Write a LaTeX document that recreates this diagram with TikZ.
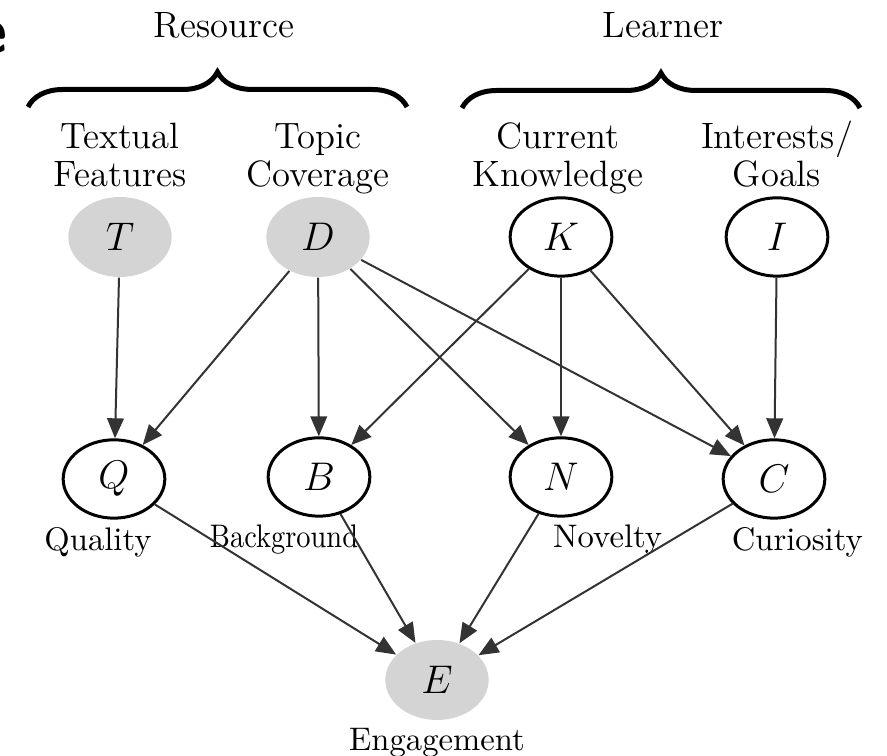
\documentclass[tikz,border=0pt]{standalone}
\usepackage{tikz}
\usepackage{graphicx}
\usetikzlibrary{arrows.meta,positioning,shapes.geometric,decorations.pathreplacing}
\tikzset{
  lat/.style={ellipse, draw, line width=0.9pt, fill=white, inner sep=0pt,
              minimum width=30.5pt, minimum height=23.5pt,
              font=\fontsize{13}{15}\selectfont},
  obs/.style={ellipse, fill=black!17, inner sep=0pt,
              minimum width=31pt, minimum height=24pt,
              font=\fontsize{13}{15}\selectfont},
  arrow/.style={-{Triangle[length=6pt,width=5pt]}, line width=0.6pt, draw=black!80},
  toplbl/.style={align=center, inner sep=0pt, text depth=0pt,
                 font=\fontsize{11}{11.4}\selectfont},
  lbl/.style={inner sep=0pt, text depth=0pt, font=\fontsize{9.8}{11}\selectfont},
  grplbl/.style={inner sep=0pt, font=\fontsize{11}{13}\selectfont},
  grpbrace/.style={decorate, decoration={brace, amplitude=10.5pt}, line width=1.5pt}
}

\begin{document}
\begin{tikzpicture}[x=0.3pt, y=-0.3pt]
  \useasboundingbox (0,0) rectangle (887,756);
  % cut-off letter at the left edge
  \node[inner sep=0pt, font=\fontsize{20}{20}\sffamily\bfseries] (frag) at (-9,38) {e};

  % groups
  \node[grplbl] (res) at (224,25) {Resource};
  \node[grplbl] (lrn) at (663,25) {Learner};
  \coordinate (r1) at (28,107);
  \coordinate (r2) at (407,107);
  \coordinate (l1) at (462,108);
  \coordinate (l2) at (860,108);
  \draw[grpbrace] (r1) -- (r2);
  \draw[grpbrace] (l1) -- (l2);

  % variables
  \node[obs] (T) at (120,237) {$T$};
  \node[obs] (D) at (318,237) {$D$};
  \node[lat] (K) at (561,237) {$K$};
  \node[lat] (I) at (777,237) {$I$};
  \node[lat] (Q) at (114,479) {$Q$};
  \node[lat] (B) at (319,477) {$B$};
  \node[lat] (N) at (561,477) {$N$};
  \node[lat] (C) at (774,479) {$C$};
  \node[obs] (E) at (437,680) {$E$};

  \node[toplbl, above=2.7pt of T] (tlbl) {Textual\\Features};
  \node[toplbl, above=2.7pt of D] (dlbl) {Topic\\Coverage};
  \node[toplbl, above=2.7pt of K, xshift=-1pt] (klbl) {Current\\Knowledge};
  \node[toplbl, above=2.7pt of I] (ilbl) {Interests/\\Goals};
  \node[lbl, below=2pt of Q, xshift=-4.8pt] (qlbl) {Quality};
  \node[lbl, below=2pt of B, xshift=-10.5pt] (blbl) {\scalebox{0.87}[1]{Background}};
  \node[lbl, below=2pt of N, xshift=14pt] (nlbl) {Novelty};
  \node[lbl, below=2pt of C, xshift=7pt] (clbl) {Curiosity};
  \node[lbl, below=2pt of E] (elbl) {Engagement};

  \draw[arrow] (T) -- (Q);
  \draw[arrow] (D) -- (Q);
  \draw[arrow] (D) -- (B);
  \draw[arrow] (D) -- (N);
  \draw[arrow] (D) -- (C);
  \draw[arrow] (K) -- (B);
  \draw[arrow] (K) -- (N);
  \draw[arrow] (K) -- (C);
  \draw[arrow] (I) -- (C);
  \draw[arrow] (Q) -- (E);
  \draw[arrow] (B) -- (E);
  \draw[arrow] (N) -- (E);
  \draw[arrow] (C) -- (E);
\end{tikzpicture}
\end{document}
